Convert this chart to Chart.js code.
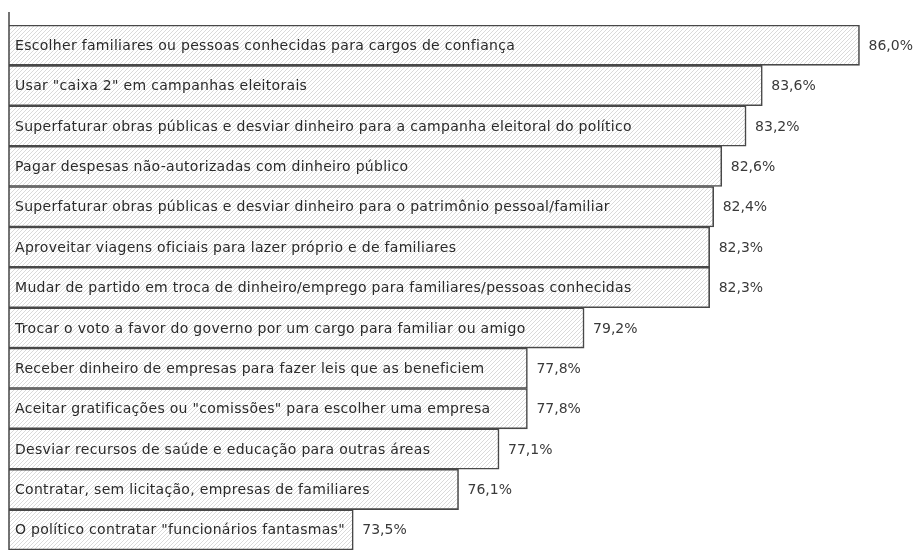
<!DOCTYPE html>
<html>
<head>
<meta charset="utf-8">
<script src="https://cdn.jsdelivr.net/npm/chart.js@4"></script>
<style>
  html, body { margin: 0; padding: 0; background: #fff; }
  canvas { display: block; }
</style>
</head>
<body>
<canvas id="chart" width="921" height="553"></canvas>
<script>
// Categories and values, top to bottom
const categories = [
    'Escolher familiares ou pessoas conhecidas para cargos de confiança',
    'Usar "caixa 2" em campanhas eleitorais',
    'Superfaturar obras públicas e desviar dinheiro para a campanha eleitoral do político',
    'Pagar despesas não-autorizadas com dinheiro público',
    'Superfaturar obras públicas e desviar dinheiro para o patrimônio pessoal/familiar',
    'Aproveitar viagens oficiais para lazer próprio e de familiares',
    'Mudar de partido em troca de dinheiro/emprego para familiares/pessoas conhecidas',
    'Trocar o voto a favor do governo por um cargo para familiar ou amigo',
    'Receber dinheiro de empresas para fazer leis que as beneficiem',
    'Aceitar gratificações ou "comissões" para escolher uma empresa',
    'Desviar recursos de saúde e educação para outras áreas',
    'Contratar, sem licitação, empresas de familiares',
    'O político contratar "funcionários fantasmas"'
];
const values = [86.0, 83.6, 83.2, 82.6, 82.4, 82.3, 82.3, 79.2, 77.8, 77.8, 77.1, 76.1, 73.5];

// Value axis range (the bars do not start at zero in the original)
const axisMin = 65;
const axisMax = 87;

const FONT = '14px "DejaVu Sans", Verdana, sans-serif';

// Fine diagonal hatch used to fill the bars
function makeHatch() {
    const tile = document.createElement('canvas');
    tile.width = 4;
    tile.height = 4;
    const c = tile.getContext('2d');
    c.fillStyle = '#ffffff';
    c.fillRect(0, 0, 4, 4);
    c.strokeStyle = '#dadada';
    c.lineWidth = 1;
    c.beginPath();
    c.moveTo(0, 4); c.lineTo(4, 0);
    c.moveTo(-1, 1); c.lineTo(1, -1);
    c.moveTo(3, 5); c.lineTo(5, 3);
    c.stroke();
    return c.createPattern(tile, 'repeat');
}

// Draws the left rule, the text inside each bar and the value beside it
const barTextPlugin = {
    id: 'barText',
    afterDatasetsDraw(chart) {
        const ctx = chart.ctx;
        const area = chart.chartArea;
        const meta = chart.getDatasetMeta(0);

        ctx.save();
        ctx.strokeStyle = '#444';
        ctx.lineWidth = 1.5;
        ctx.beginPath();
        ctx.moveTo(area.left, 12);
        ctx.lineTo(area.left, area.bottom);
        ctx.stroke();

        ctx.font = FONT;
        ctx.textBaseline = 'middle';
        meta.data.forEach((bar, i) => {
            ctx.fillStyle = '#2a2a2a';
            ctx.textAlign = 'left';
            ctx.letterSpacing = '0.3px';
            ctx.fillText(categories[i], area.left + 6, bar.y + 1);

            ctx.fillStyle = '#3a3a3a';
            ctx.letterSpacing = '0px';
            const label = values[i].toFixed(1).replace('.', ',') + '%';
            ctx.fillText(label, bar.x + 9, bar.y + 1);
        });
        ctx.restore();
    }
};

document.addEventListener('DOMContentLoaded', function() {
    const ctx = document.getElementById('chart').getContext('2d');
    new Chart(ctx, {
        type: 'bar',
        data: {
            labels: categories,
            datasets: [{
                data: values,
                backgroundColor: makeHatch(),
                borderColor: '#484848',
                borderWidth: 1.6,
                borderSkipped: false,
                barPercentage: 1,
                categoryPercentage: 1
            }]
        },
        options: {
            indexAxis: 'y',
            responsive: false,
            animation: false,
            layout: {
                padding: { left: 9, right: 21, top: 25, bottom: 3 }
            },
            plugins: {
                legend: { display: false },
                tooltip: { enabled: false }
            },
            scales: {
                x: { display: false, min: axisMin, max: axisMax },
                y: { display: false }
            }
        },
        plugins: [barTextPlugin]
    });
});
</script>
</body>
</html>
